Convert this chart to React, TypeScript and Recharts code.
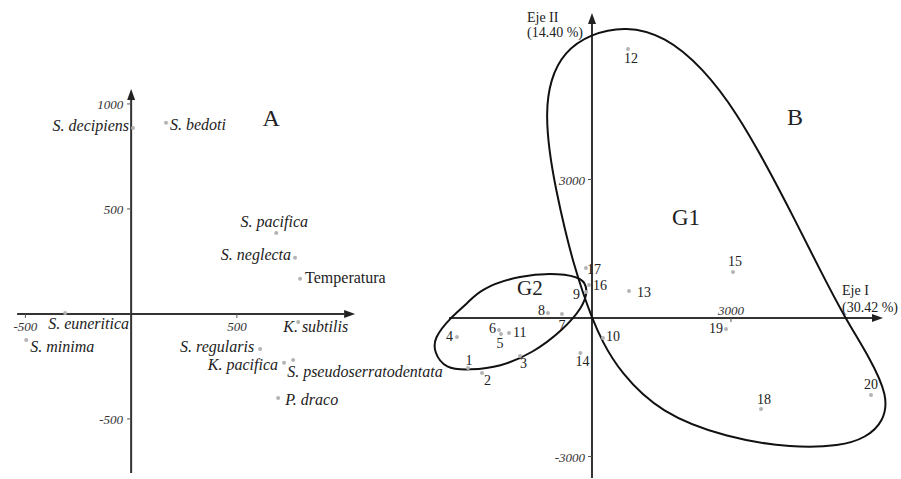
import { ScatterChart, Scatter, XAxis, YAxis, ReferenceLine, ReferenceDot } from 'recharts';

const W = 901;
const H = 479;
const SERIF = "'Liberation Serif', 'Times New Roman', serif";
const INK = '#222';
const DOT = '#b4b4b4';

// Panel A: species / temperature scores
const speciesNames = [
    'S. decipiens', 'S. bedoti', 'S. pacifica', 'S. neglecta', 'Temperatura', 'K. subtilis',
    'S. euneritica', 'S. minima', 'S. regularis', 'K. pacifica', 'S. pseudoserratodentata', 'P. draco',
];
const speciesX = [9, 165, 686, 775, 799, 790, -312, -496, 610, 723, 766, 695];
const speciesY = [886, 910, 386, 267, 167, -38, 5, -124, -167, -233, -219, -400];
const ticksAX = [-500, 500];
const ticksAY = [1000, 500, -500];

// Panel B: sample scores on Eje I / Eje II
const sampleIds = ['1', '2', '3', '4', '5', '6', '7', '8', '9', '10', '11', '12', '13', '14', '15', '16', '17', '18', '19', '20'];
const sampleX = [-2676, -2374, -1554, -2914, -1964, -2007, -648, -950, -130, 237, -1791, 777, 799, -250, 3043, -65, -130, 3648, 2892, 6022];
const sampleY = [-1083, -1191, -823, -412, -347, -260, 87, 108, 563, -433, -325, 5826, 585, -760, 996, 715, 1083, -1971, -238, -1668];
const ticksBX = [3000];
const ticksBY = [3000, -3000];

// group outlines (spline control points, same units as the scores)
const g1OutlineX = [0, -194, -388, -583, -777, -928, -993, -906, -604, -43, 734, 1575, 2396, 3129, 3798, 4381, 4921, 5460, 6000, 6388, 6302, 5914, 5352, 4338, 2914, 1468, 604, 216];
const g1OutlineY = [0, 541, 1148, 1906, 2772, 3639, 4440, 5155, 5761, 6151, 6325, 6108, 5415, 4440, 3249, 2123, 1040, 0, -866, -1689, -2231, -2599, -2772, -2816, -2599, -2058, -1170, -498];
const g2OutlineX = [-3410, -3065, -2676, -2417, -1554, -691, -194, -86, -194, -626, -1273, -1986, -2633, -3173, -3410];
const g2OutlineY = [-433, 0, 325, 628, 931, 975, 866, 606, 238, -260, -758, -1061, -1126, -1105, -736];

const species = speciesNames.map((name, i) => ({ name, x: speciesX[i], y: speciesY[i] }));
const samples = sampleIds.map((name, i) => ({ name, x: sampleX[i], y: sampleY[i] }));
const g1 = g1OutlineX.map((x, i) => ({ x, y: g1OutlineY[i] }));
const g2 = g2OutlineX.map((x, i) => ({ x, y: g2OutlineY[i] }));

type Place = [string, number, number];

// label anchor and pixel offset from each dot
const speciesPlace: Record<string, Place> = {
    'S. decipiens': ['end', -4, 3],
    'S. bedoti': ['start', 4, 7],
    'S. pacifica': ['middle', -2, -6],
    'S. neglecta': ['end', -4, 2],
    'Temperatura': ['start', 5, 4],
    'K. subtilis': ['start', -15, 10],
    'S. euneritica': ['start', -17, 16],
    'S. minima': ['start', 4, 12],
    'S. regularis': ['end', -6, 3],
    'K. pacifica': ['end', -6, 7],
    'S. pseudoserratodentata': ['start', -6, 17],
    'P. draco': ['start', 7, 7],
};

const samplePlace: Record<string, Place> = {
    '1': ['middle', 1, -3], '2': ['start', 2, 12], '3': ['start', 0, 12], '4': ['end', -4, 4],
    '5': ['middle', -1, 14], '6': ['end', -3, 3], '7': ['middle', 0, 16], '8': ['end', -3, 2],
    '9': ['end', -6, 7], '10': ['start', 3, 3], '11': ['start', 4, 4], '12': ['middle', 3, 14],
    '13': ['start', 8, 6], '14': ['middle', 2, 13], '15': ['middle', 2, -6], '16': ['start', 4, 5],
    '17': ['start', 1, 6], '18': ['middle', 3, -5], '19': ['end', -3, 4], '20': ['middle', 0, -6],
};

const labelledDot = (place: Record<string, Place>, size: number, italic: (n: string) => boolean) => (p: any) => {
    const name = p.payload.name;
    const [anchor, dx, dy] = place[name];
    return (
        <g>
            <circle cx={p.cx} cy={p.cy} r={2} fill={DOT} />
            <text x={p.cx + dx} y={p.cy + dy} textAnchor={anchor} fontFamily={SERIF} fontSize={size}
                fontStyle={italic(name) ? 'italic' : 'normal'} fill={INK}>
                {name}
            </text>
        </g>
    );
};

const noDot = () => <g />;

const arrowLine = (p: any) => {
    const { x1, y1, x2, y2 } = p;
    const a = Math.atan2(y2 - y1, x2 - x1);
    const len = 11;
    const half = 4;
    const bx = x2 - len * Math.cos(a);
    const by = y2 - len * Math.sin(a);
    const pts = `${x2},${y2} ${bx - half * Math.sin(a)},${by + half * Math.cos(a)} ${bx + half * Math.sin(a)},${by - half * Math.cos(a)}`;
    return (
        <g>
            <line x1={x1} y1={y1} x2={bx} y2={by} stroke="#333" strokeWidth={2} />
            <polygon points={pts} fill="#222" />
        </g>
    );
};

const tickMark = (axis: 'x' | 'y', anchor: string, dx: number, dy: number) => (p: any) => (
    <g>
        <line x1={p.cx} y1={p.cy} x2={axis === 'y' ? p.cx - 4 : p.cx} y2={axis === 'y' ? p.cy : p.cy + 4} stroke="#555" />
        <text x={p.cx + dx} y={p.cy + dy} textAnchor={anchor} fontFamily={SERIF} fontSize={13}
            fontStyle="italic" fill="#333">
            {axis === 'y' ? p.payload.y : p.payload.x}
        </text>
    </g>
);

const note = (lines: string[], size: number, anchor = 'start', lead = 15) => (p: any) => (
    <text x={p.cx} y={p.cy} textAnchor={anchor} fontFamily={SERIF} fontSize={size} fill={INK}>
        {lines.map((t, i) => (
            <tspan key={t} x={p.cx} dy={i === 0 ? 0 : lead}>{t}</tspan>
        ))}
    </text>
);

const layer: React.CSSProperties = { position: 'absolute', left: 0, top: 0 };

const App = () => {
    return (
        <div style={{ position: 'absolute', left: 0, top: 0, width: W, height: H, background: '#fff' }}>
            {/* A */}
            <div style={layer}>
                <ScatterChart width={W} height={H} margin={{ top: 0, right: 0, bottom: 0, left: 0 }}>
                    <XAxis type="number" dataKey="x" domain={[-620, 3640]} hide allowDataOverflow />
                    <YAxis type="number" dataKey="y" domain={[-786, 1495]} hide allowDataOverflow />
                    <ReferenceLine segment={[{ x: -539, y: 0 }, { x: 1059, y: 0 }]} shape={arrowLine} />
                    <ReferenceLine segment={[{ x: 0, y: -757 }, { x: 0, y: 1071 }]} shape={arrowLine} />
                    <Scatter data={ticksAX.map((x) => ({ x, y: 0 }))} shape={tickMark('x', 'middle', 0, 17)} isAnimationActive={false} />
                    <Scatter data={ticksAY.map((y) => ({ x: 0, y }))} shape={tickMark('y', 'end', -8, 5)} isAnimationActive={false} />
                    <Scatter data={species} shape={labelledDot(speciesPlace, 16, (n) => n !== 'Temperatura')} isAnimationActive={false} />
                    <ReferenceDot x={662} y={895} r={0} shape={note(['A'], 24, 'middle')} />
                </ScatterChart>
            </div>
            {/* B */}
            <div style={layer}>
                <ScatterChart width={W} height={H} margin={{ top: 0, right: 0, bottom: 0, left: 0 }}>
                    <XAxis type="number" dataKey="x" domain={[-12776, 6669]} hide allowDataOverflow />
                    <YAxis type="number" dataKey="y" domain={[-3487, 6888]} hide allowDataOverflow />
                    <ReferenceLine segment={[{ x: -3086, y: 0 }, { x: 6280, y: 0 }]} shape={arrowLine} />
                    <ReferenceLine segment={[{ x: 0, y: -3466 }, { x: 0, y: 6606 }]} shape={arrowLine} />
                    <Scatter data={ticksBX.map((x) => ({ x, y: 0 }))} shape={tickMark('x', 'middle', 0, -3)} isAnimationActive={false} />
                    <Scatter data={ticksBY.map((y) => ({ x: 0, y }))} shape={tickMark('y', 'end', -7, 5)} isAnimationActive={false} />
                    <Scatter data={g1} shape={noDot} line={{ stroke: '#111', strokeWidth: 2 }} lineJointType="basisClosed" isAnimationActive={false} />
                    <Scatter data={g2} shape={noDot} line={{ stroke: '#111', strokeWidth: 2 }} lineJointType="basisClosed" isAnimationActive={false} />
                    <Scatter data={samples} shape={labelledDot(samplePlace, 14, () => false)} isAnimationActive={false} />
                    <ReferenceDot x={4209} y={4180} r={0} shape={note(['B'], 24)} />
                    <ReferenceDot x={1727} y={2014} r={0} shape={note(['G1'], 23)} />
                    <ReferenceDot x={-1619} y={498} r={0} shape={note(['G2'], 21)} />
                    <ReferenceDot x={-1403} y={6411} r={0} shape={note(['Eje II', '(14.40 %)'], 14)} />
                    <ReferenceDot x={5396} y={498} r={0} shape={note(['Eje I', '(30.42 %)'], 14, 'start', 17)} />
                </ScatterChart>
            </div>
        </div>
    );
};

export default App;
